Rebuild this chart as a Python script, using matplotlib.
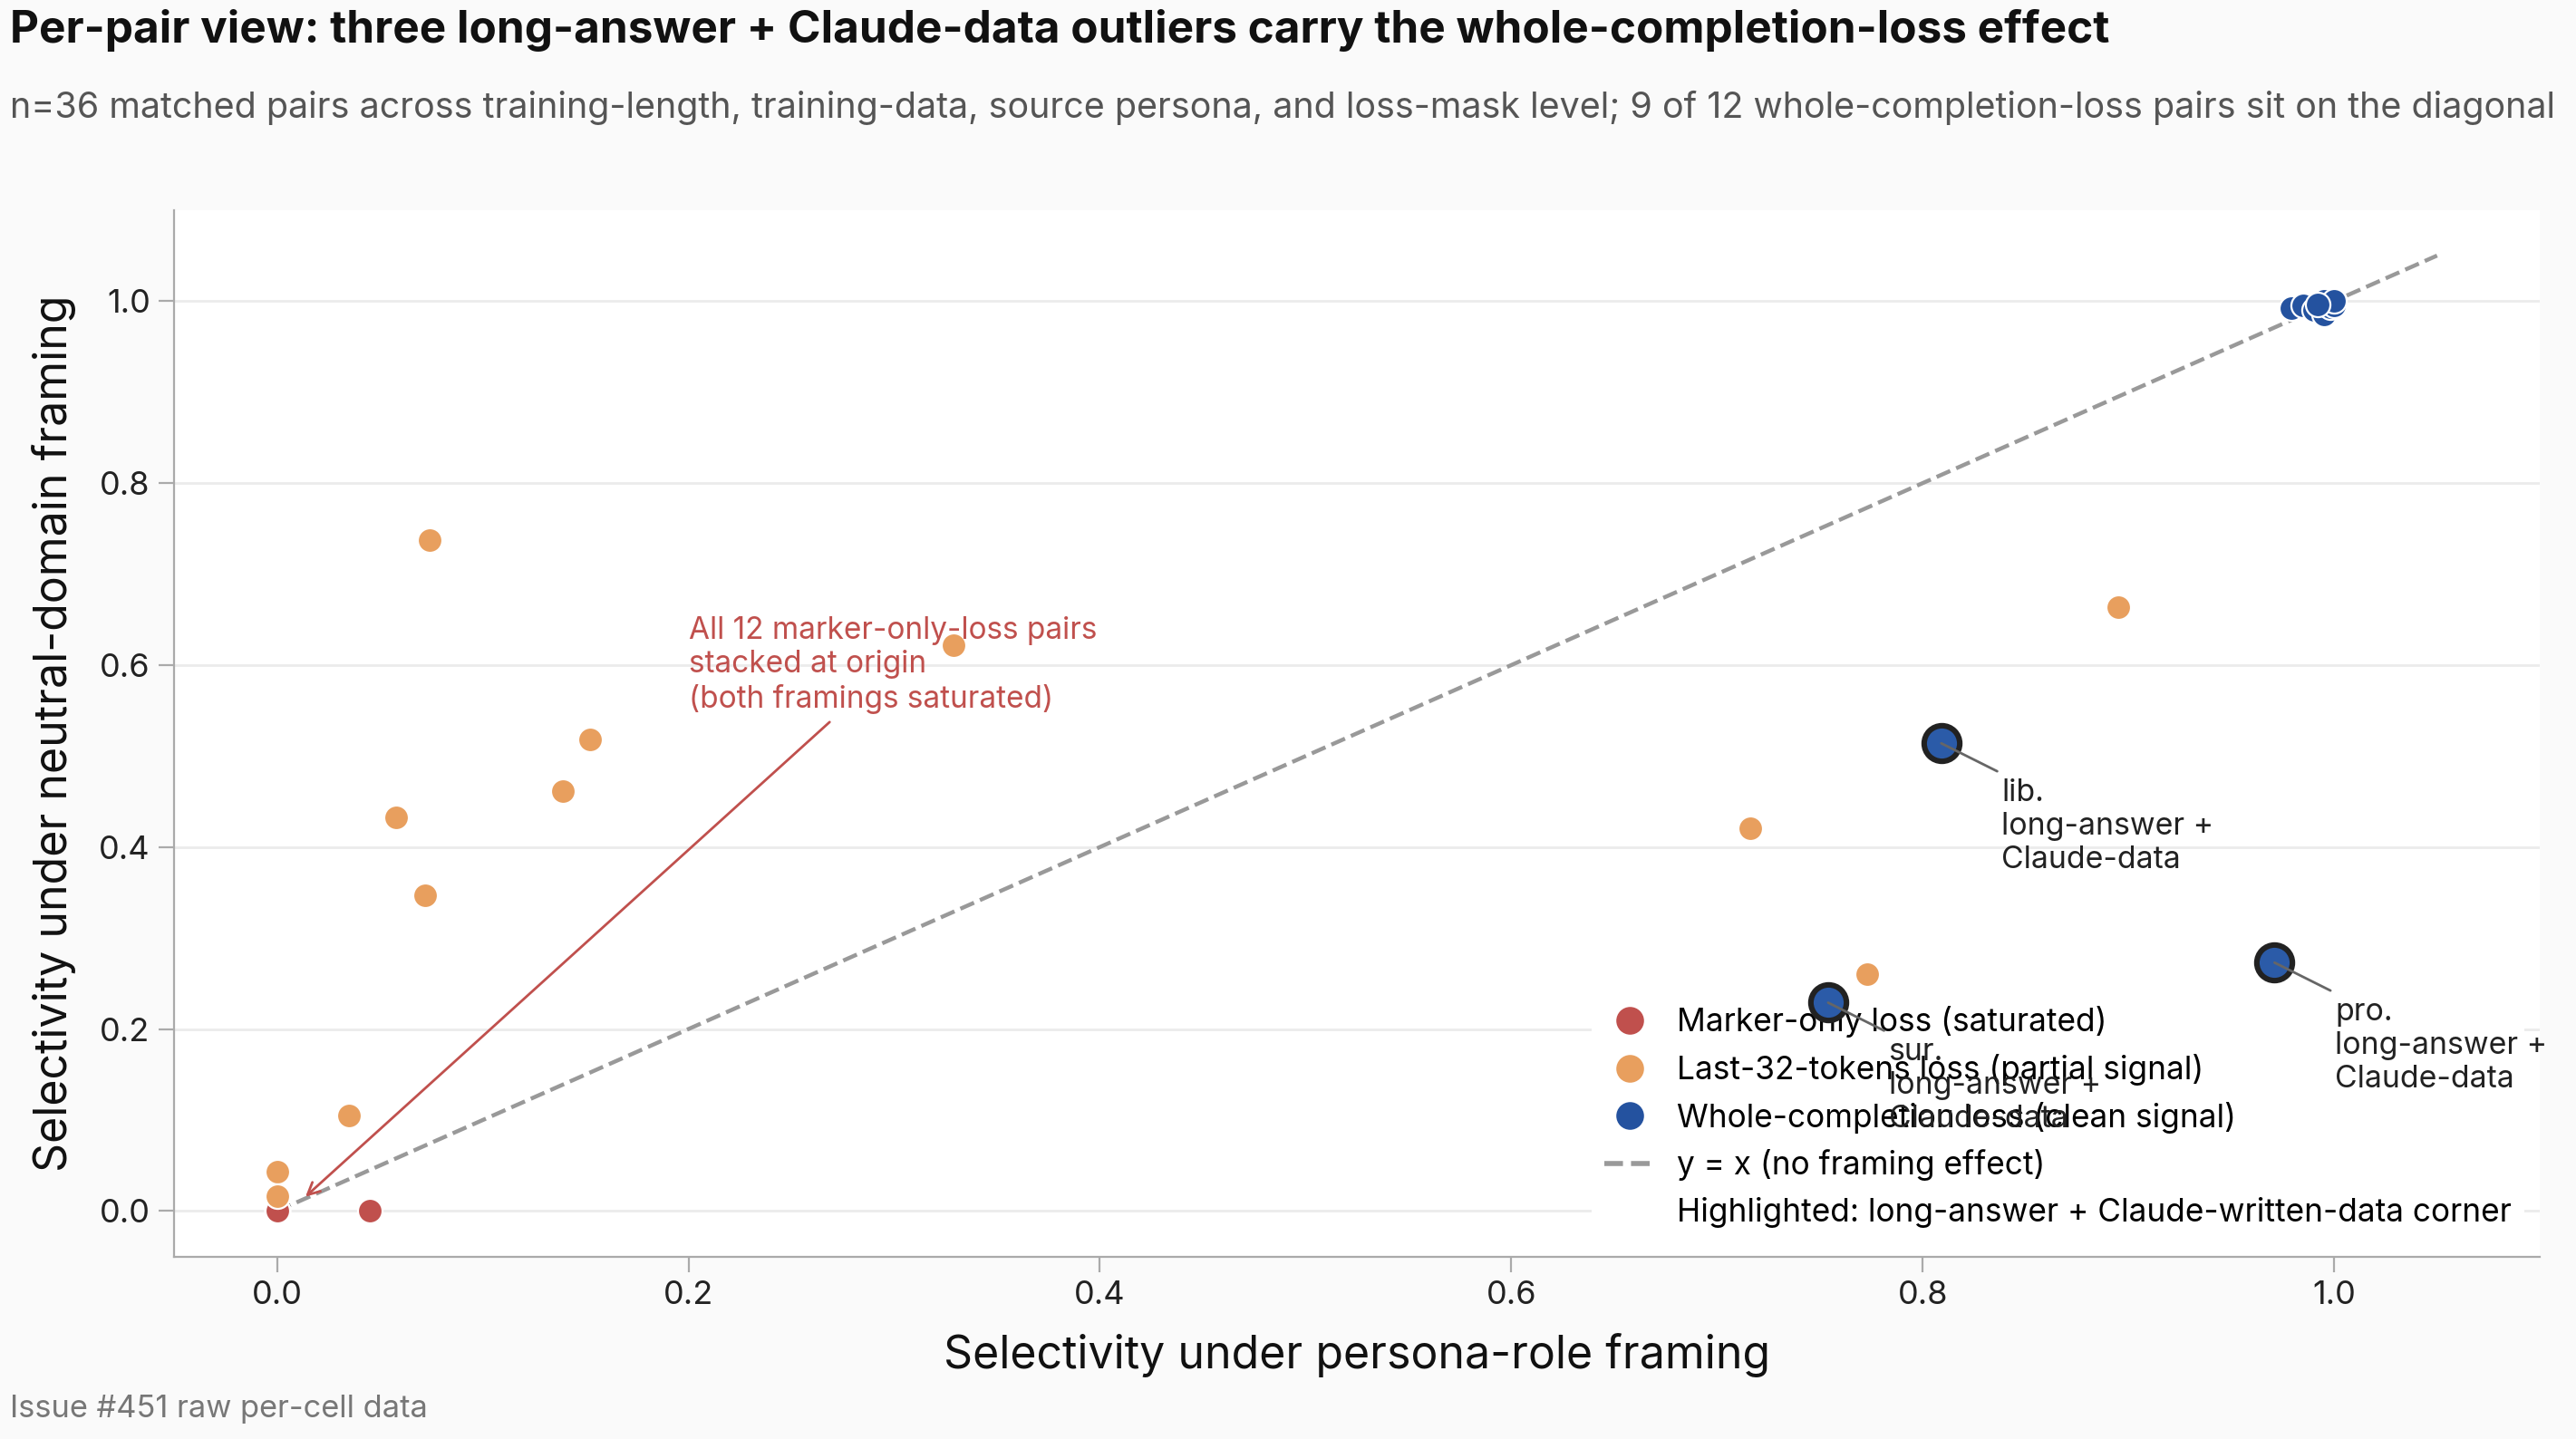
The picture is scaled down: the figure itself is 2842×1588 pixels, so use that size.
import matplotlib
matplotlib.use("Agg")
import matplotlib.pyplot as plt
from matplotlib.lines import Line2D

plt.rcParams['font.family'] = ['Inter', 'DejaVu Sans']

# marker-only loss pairs (all saturated)
marker_x = [0.0] * 11 + [0.045]
marker_y = [0.0] * 11 + [0.0]

# last-32-tokens loss pairs
last32_x = [0.074, 0.329, 0.152, 0.139, 0.058, 0.072, 0.035, 0.0, 0.0, 0.895, 0.716, 0.773]
last32_y = [0.737, 0.622, 0.518, 0.462, 0.433, 0.347, 0.105, 0.043, 0.016, 0.664, 0.421, 0.260]

# whole-completion loss pairs
whole_x = [0.979, 0.985, 0.990, 0.995, 0.995, 0.998, 1.0, 1.0, 0.992, 0.809, 0.754, 0.971]
whole_y = [0.992, 0.995, 0.990, 1.0, 0.985, 0.993, 0.995, 1.0, 0.996, 0.514, 0.229, 0.273]

# highlighted long-answer + Claude-data corner
hl_x = [0.809, 0.754, 0.971]
hl_y = [0.514, 0.229, 0.273]
hl_labels = ["lib.\nlong-answer +\nClaude-data",
             "sur.\nlong-answer +\nClaude-data",
             "pro.\nlong-answer +\nClaude-data"]

RED = '#C0504D'
ORANGE = '#E89F5E'
BLUE = '#24529F'

fig = plt.figure(figsize=(14.21, 7.94), dpi=200, facecolor='#FAFAFA')
ax = fig.add_axes([0.0676, 0.1268, 0.9184, 0.7272])
ax.set_facecolor('white')

ax.plot([0, 1.05], [0, 1.05], ls='--', color='#999999', lw=1.6, zorder=2)

ax.scatter(marker_x, marker_y, s=95, color=RED, edgecolor='white', lw=0.8, zorder=3)
ax.scatter(last32_x, last32_y, s=95, color=ORANGE, edgecolor='white', lw=0.8, zorder=3)
ax.scatter(whole_x, whole_y, s=95, color=BLUE, edgecolor='white', lw=0.8, zorder=3)
ax.scatter(hl_x, hl_y, s=200, color='#2B5BA8', edgecolor='#222222', lw=2.2, zorder=4)

for x, y, lab in zip(hl_x, hl_y, hl_labels):
    ax.annotate(lab, xy=(x, y), xytext=(24, -14), textcoords='offset points',
                ha='left', va='top', fontsize=12.2, color='#222222',
                arrowprops=dict(arrowstyle='-', color='#666666', lw=1, shrinkB=0),
                zorder=5)

ax.annotate("All 12 marker-only-loss pairs\nstacked at origin\n(both framings saturated)",
            xy=(0.012, 0.012), xytext=(0.2, 0.6), ha='left', va='center',
            fontsize=12, color=RED,
            arrowprops=dict(arrowstyle='->', color=RED, lw=1), zorder=5)

ax.set_xlim(-0.05, 1.10)
ax.set_ylim(-0.05, 1.10)
ax.set_xticks([0.0, 0.2, 0.4, 0.6, 0.8, 1.0])
ax.set_yticks([0.0, 0.2, 0.4, 0.6, 0.8, 1.0])
ax.tick_params(labelsize=13, color='#AAAAAA', length=6, labelcolor='#222222')
ax.grid(axis='y', color='#EBEBEB', lw=1)
ax.set_axisbelow(True)
for s in ['top', 'right']:
    ax.spines[s].set_visible(False)
for s in ['left', 'bottom']:
    ax.spines[s].set_color('#AAAAAA')

ax.set_xlabel("Selectivity under persona-role framing", fontsize=18, color='#111111', labelpad=9)
ax.set_ylabel("Selectivity under neutral-domain framing", fontsize=18, color='#111111', labelpad=9)

handles = [
    Line2D([], [], marker='o', ls='', color=RED, markersize=10),
    Line2D([], [], marker='o', ls='', color=ORANGE, markersize=10),
    Line2D([], [], marker='o', ls='', color=BLUE, markersize=10),
    Line2D([], [], ls='--', color='#999999', lw=2),
    Line2D([], [], ls='', color='none'),
]
labels = ["Marker-only loss (saturated)",
          "Last-32-tokens loss (partial signal)",
          "Whole-completion loss (clean signal)",
          "y = x (no framing effect)",
          "Highlighted: long-answer + Claude-written-data corner"]
leg = ax.legend(handles, labels, loc='lower right', fontsize=12.7, frameon=True,
                facecolor='white', edgecolor='none', framealpha=1,
                borderaxespad=0.5, handlelength=1.6, handletextpad=0.65,
                labelspacing=0.5)
leg.set_zorder(2.5)

fig.text(0.004, 0.979, "Per-pair view: three long-answer + Claude-data outliers carry the whole-completion-loss effect",
         fontsize=17.8, fontweight='bold', color='#111111', ha='left', va='center')
fig.text(0.004, 0.925, "n=36 matched pairs across training-length, training-data, source persona, and loss-mask level; 9 of 12 whole-completion-loss pairs sit on the diagonal",
         fontsize=14.2, color='#555555', ha='left', va='center')
fig.text(0.004, 0.021, "Issue #451 raw per-cell data", fontsize=12.4, color='#777777', ha='left', va='center')

fig.savefig('out.png', dpi=200, facecolor=fig.get_facecolor())
